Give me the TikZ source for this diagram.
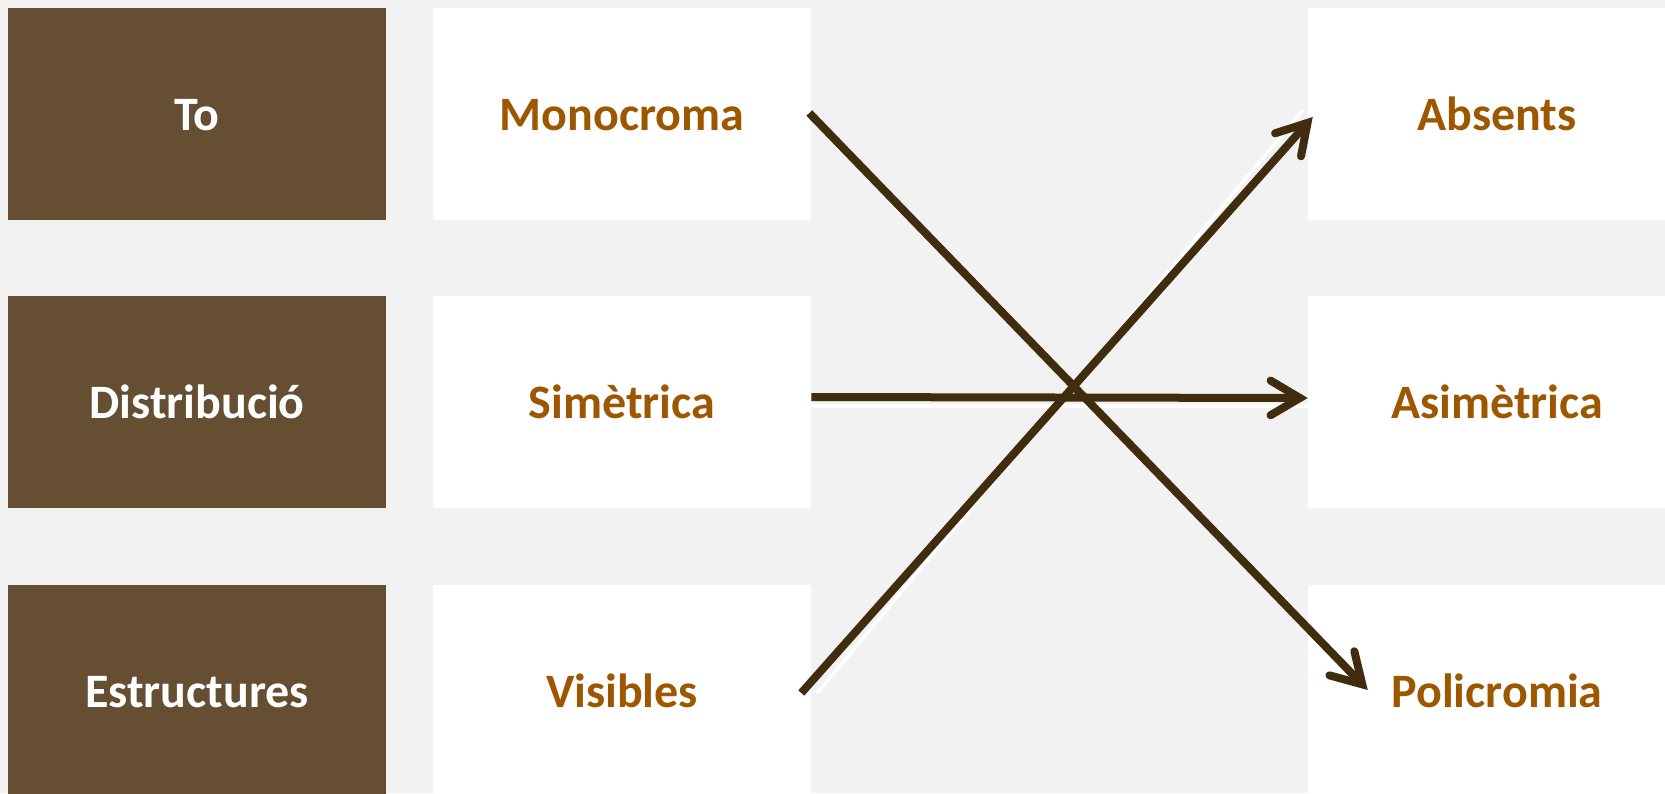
\documentclass[tikz,border=0pt]{standalone}
\usepackage{fontspec}
\setmainfont{Carlito}
\usetikzlibrary{arrows.meta,calc}
\definecolor{bg}{RGB}{242,242,242}
\definecolor{brn}{RGB}{101,78,50}
\definecolor{org}{RGB}{156,87,0}
\definecolor{arr}{RGB}{64,44,14}
\begin{document}
\begin{tikzpicture}[x=0.75pt,y=-0.75pt,
 box/.style={rectangle, minimum width=283.5pt, minimum height=159pt, inner sep=0pt,
   font=\fontsize{36}{43}\selectfont\bfseries, text height=25pt, text depth=0pt},
 cat/.style={box, fill=brn, text=white},
 val/.style={box, fill=white, text=org},
 link/.style={draw=arr, line width=6pt, -{Straight Barb[length=22pt,width=26pt,line cap=round]}},
 shade/.style={draw=white, line width=2.5pt}]
\path[use as bounding box, fill=bg] (0,0) rectangle (1665,793);
\clip (0,0) rectangle (1665,793);
\node[cat] (to) at (197,114) {To};
\node[cat] (dist) at (197,402) {Distribució};
\node[cat] (est) at (197,691) {Estructures};
\node[val] (mono) at (622,114) {Monocroma};
\node[val] (sim) at (622,402) {Simètrica};
\node[val] (vis) at (622,691) {Visibles};
\node[val] (abs) at (1497,114) {Absents};
\node[val] (asim) at (1497,402) {Asimètrica};
\node[val] (pol) at (1497,691) {Policromia};
\draw[shade] ($(sim.east)+(0,4)$) -- ($(asim.west)+(0,4)$);
\draw[shade] ($(vis.east)+(6,2)$) -- ($(abs.west)+(-5,-4)$);
\draw[link] ($(mono.east)+(-2,-1)$) -- ($(pol.west)+(60,-1)$);
\draw[link] ($(sim.east)+(0,-5)$) -- ($(asim.west)+(0,-4)$);
\draw[link] ($(vis.east)+(-10,2)$) -- ($(abs.west)+(5,3)$);
\end{tikzpicture}
\end{document}
